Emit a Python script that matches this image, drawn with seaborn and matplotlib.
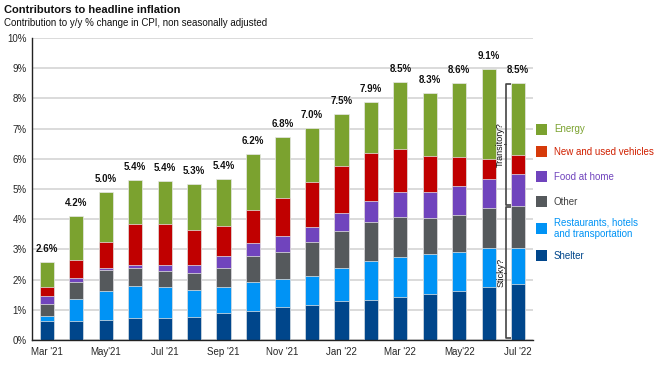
import numpy as np
import pandas as pd
import matplotlib
matplotlib.use("Agg")
import matplotlib.pyplot as plt
from matplotlib.patches import Rectangle
import seaborn as sns

# Months on the x axis
months = ["Mar '21", "Apr '21", "May'21", "Jun '21", "Jul '21", "Aug '21", "Sep '21",
          "Oct '21", "Nov '21", "Dec '21", "Jan '22", "Feb '22", "Mar '22",
          "Apr '22", "May'22", "Jun '22", "Jul '22"]
tick_labels = ["Mar '21", "", "May'21", "", "Jul '21", "", "Sep '21", "", "Nov '21", "",
               "Jan '22", "", "Mar '22", "", "May'22", "", "Jul '22"]

# Contributions (percentage points), bottom to top
shelter = [0.62, 0.62, 0.65, 0.72, 0.72, 0.77, 0.88, 0.95, 1.09, 1.16, 1.28, 1.34, 1.43, 1.51, 1.61, 1.74, 1.84]
restaurants = [0.16, 0.74, 0.98, 1.07, 1.03, 0.89, 0.87, 0.97, 0.93, 0.97, 1.11, 1.28, 1.31, 1.35, 1.31, 1.31, 1.22]
other = [0.41, 0.56, 0.69, 0.60, 0.52, 0.56, 0.64, 0.85, 0.89, 1.10, 1.21, 1.29, 1.33, 1.19, 1.22, 1.31, 1.39]
food = [0.28, 0.12, 0.06, 0.11, 0.22, 0.27, 0.40, 0.44, 0.53, 0.52, 0.59, 0.70, 0.83, 0.86, 0.97, 0.97, 1.06]
vehicles = [0.29, 0.60, 0.87, 1.33, 1.34, 1.16, 0.97, 1.10, 1.27, 1.47, 1.56, 1.58, 1.41, 1.18, 0.96, 0.66, 0.60]
energy = [0.82, 1.46, 1.66, 1.47, 1.44, 1.53, 1.57, 1.84, 2.00, 1.81, 1.72, 1.68, 2.22, 2.10, 2.44, 2.98, 2.40]

# Headline CPI labels
headline = [2.6, 4.2, 5.0, 5.4, 5.4, 5.3, 5.4, 6.2, 6.8, 7.0, 7.5, 7.9, 8.5, 8.3, 8.6, 9.1, 8.5]

series_names = ["Shelter", "Restaurants, hotels\nand transportation", "Other",
                "Food at home", "New and used vehicles", "Energy"]
bar_colors = ["#00468B", "#0093F5", "#55595C", "#7044BD", "#C00000", "#7BA22F"]
text_colors = ["#00468B", "#0093F5", "#404040", "#7044BD", "#D02000", "#7BA22F"]

df = pd.DataFrame({"month": months, "Shelter": shelter, "Restaurants": restaurants,
                   "Other": other, "Food": food, "Vehicles": vehicles, "Energy": energy})
cols = ["Shelter", "Restaurants", "Other", "Food", "Vehicles", "Energy"]
cum = df[cols].cumsum(axis=1)
cum["month"] = months

sns.set_theme(style="white")
plt.rcParams["font.family"] = ["Liberation Sans", "DejaVu Sans"]

fig = plt.figure(figsize=(6.58, 3.65), dpi=100)
ax = fig.add_axes([32 / 658, 1 - 340 / 365, (533 - 32) / 658, (340 - 38) / 365])

# draw cumulative totals from top down so each layer covers the one above it
for col, c in reversed(list(zip(cols, bar_colors))):
    sns.barplot(data=cum, x="month", y=col, color=c, width=0.48, ax=ax,
                order=months, saturation=1, edgecolor="#e8e8e8", linewidth=0.5)

for i, v in enumerate(headline):
    top = cum["Energy"].iloc[i]
    ax.text(i, top + 0.43, f"{v:.1f}%", ha="center", va="center", fontsize=7,
            fontweight="bold", color="#111111")

ax.set_xlim(-0.5, 16.5)
ax.set_ylim(0, 10)
ax.set_yticks(np.arange(0, 11, 1))
ax.set_yticklabels([f"{t}%" for t in range(11)], fontsize=7)
ax.yaxis.grid(True, color="#d4d4d4", linewidth=1.2)
ax.set_axisbelow(True)
ax.set_xticks(range(len(months)))
ax.set_xticklabels(tick_labels, fontsize=7)
ax.set_xticks(np.arange(-0.5, 16.6, 2), minor=True)
ax.tick_params(axis="x", which="major", length=0, pad=5)
ax.tick_params(axis="x", which="minor", length=4, width=0.8, color="#222222")
ax.tick_params(axis="y", length=0, pad=4)
ax.set_xlabel("")
ax.set_ylabel("")
for s in ["top", "right"]:
    ax.spines[s].set_visible(False)
for s in ["left", "bottom"]:
    ax.spines[s].set_color("#222222")
    ax.spines[s].set_linewidth(1.0)

# Transitory / sticky brackets beside the latest bar
x0, x1 = 15.6, 15.77
split = cum["Other"].iloc[-1]
top_last = cum["Energy"].iloc[-1]
for lo, hi, label in [(split + 0.02, top_last - 0.02, "Transitory?"), (0.05, split - 0.04, "Sticky?")]:
    ax.plot([x1, x0, x0, x1], [hi, hi, lo, lo], color="#444444", lw=1.2, solid_capstyle="butt")
    mid = (lo + hi) / 2
    ax.plot([x0 - 0.08, x0], [mid, mid], color="#444444", lw=0.8)
    ax.text(x0 - 0.2, mid, label, rotation=90, ha="center", va="center", fontsize=6.5,
            color="#111111")

# Legend on the right
legend_rows = [(129, 5), (151.7, 4), (176.7, 3), (201.7, 2), (228, 1), (255.7, 0)]
for ypix, k in legend_rows:
    fig.add_artist(Rectangle((536 / 658, 1 - (ypix + 5.5) / 365), 11 / 658, 11 / 365,
                             transform=fig.transFigure, facecolor=bar_colors[k] if k != 4 else "#D63A0A",
                             edgecolor="none"))
    fig.text(554 / 658, 1 - ypix / 365, series_names[k], ha="left", va="center",
             fontsize=7, color=text_colors[k], linespacing=1.15)

fig.text(4 / 658, 1 - 10 / 365, "Contributors to headline inflation", fontsize=8,
         fontweight="bold", ha="left", va="center", color="#111111")
fig.text(4 / 658, 1 - 23 / 365, "Contribution to y/y % change in CPI, non seasonally adjusted",
         fontsize=7, ha="left", va="center", color="#111111")

fig.savefig("out.png", dpi=100)
